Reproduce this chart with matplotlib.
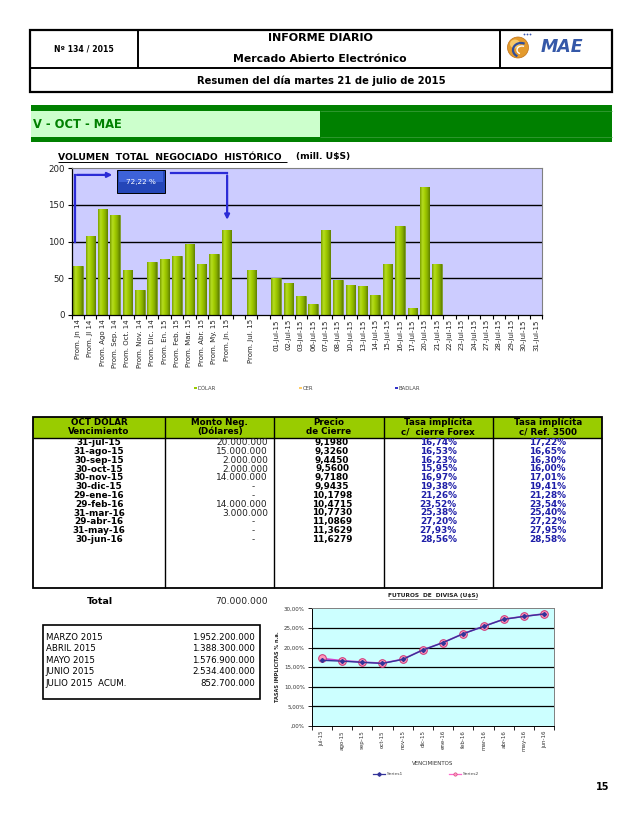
import matplotlib
matplotlib.use('Agg')
import matplotlib.pyplot as plt
import numpy as np
from matplotlib.patches import Rectangle, Circle, Ellipse, Arc
from matplotlib.colors import LinearSegmentedColormap
from matplotlib.ticker import FixedLocator, FuncFormatter

# ---------------- DATA ----------------
bar_categories = ['Prom. Jn 14', 'Prom. Jl 14', 'Prom. Ago 14', 'Prom. Sep. 14', 'Prom. Oct. 14',
                  'Prom. Nov. 14', 'Prom. Dic. 14', 'Prom. En. 15', 'Prom. Feb. 15', 'Prom. Mar. 15',
                  'Prom. Abr. 15', 'Prom. My. 15', 'Prom. Jn. 15', '', 'Prom. Jul. 15', '',
                  '01-jul-15', '02-jul-15', '03-jul-15', '06-jul-15', '07-jul-15', '08-jul-15',
                  '10-jul-15', '13-jul-15', '14-jul-15', '15-jul-15', '16-jul-15', '17-jul-15',
                  '20-jul-15', '21-jul-15', '22-jul-15', '23-jul-15', '24-jul-15', '27-jul-15',
                  '28-jul-15', '29-jul-15', '30-jul-15', '31-jul-15']
nan = np.nan
bar_volumes = [67.2, 108, 144, 137, 61, 34, 72, 76, 80.5, 97, 69.5, 83, 115.7, nan, 61, nan,
               51, 43, 26, 15.5, 115.5, 48, 41, 39.5, 27, 70, 121, 9.5, 175, 70,
               nan, nan, nan, nan, nan, nan, nan, nan]
bar_yticks = [0, 50, 100, 150, 200]
growth_label = '72,22 %'
bar_legend = ['DÓLAR', 'CER', 'BADLAR']

table_header1 = ['OCT DÓLAR', 'Monto Neg.', 'Precio', 'Tasa implícita', 'Tasa implícita']
table_header2 = ['Vencimiento', '(Dólares)', 'de Cierre', 'c/  cierre Forex', 'c/ Ref. 3500']
vencimientos = ['31-jul-15', '31-ago-15', '30-sep-15', '30-oct-15', '30-nov-15', '30-dic-15',
                '29-ene-16', '29-feb-16', '31-mar-16', '29-abr-16', '31-may-16', '30-jun-16']
montos = ['20.000.000', '15.000.000', '2.000.000', '2.000.000', '14.000.000', '-', '-',
          '14.000.000', '3.000.000', '-', '-', '-']
precios = ['9,1980', '9,3260', '9,4450', '9,5600', '9,7180', '9,9435', '10,1798', '10,4715',
           '10,7730', '11,0869', '11,3629', '11,6279']
tasa_forex = [16.74, 16.53, 16.23, 15.95, 16.97, 19.38, 21.26, 23.52, 25.38, 27.20, 27.93, 28.56]
tasa_ref = [17.22, 16.65, 16.30, 16.00, 17.01, 19.41, 21.28, 23.54, 25.40, 27.22, 27.95, 28.58]
total_label = '70.000.000'

month_names = ['MARZO 2015', 'ABRIL 2015', 'MAYO 2015', 'JUNIO 2015', 'JULIO 2015  ACUM.']
month_values = ['1.952.200.000', '1.388.300.000', '1.576.900.000', '2.534.400.000', '852.700.000']

line_categories = ['jul-15', 'ago-15', 'sep-15', 'oct-15', 'nov-15', 'dic-15', 'ene-16',
                   'feb-16', 'mar-16', 'abr-16', 'may-16', 'jun-16']
line_yticks = [0, 5, 10, 15, 20, 25, 30]

# ---------------- FIGURE ----------------
W, H = 638, 826
fig = plt.figure(figsize=(W / 100, H / 100), dpi=100)
plt.rcParams['font.family'] = ['DejaVu Sans']


def ax_px(x0, y0, x1, y1):
    return fig.add_axes([x0 / W, 1 - y1 / H, (x1 - x0) / W, (y1 - y0) / H])


page = fig.add_axes([0, 0, 1, 1])
page.set_xlim(0, W)
page.set_ylim(H, 0)
page.axis('off')


def hline(x0, x1, y, lw=1.2, c='black'):
    page.plot([x0, x1], [y, y], color=c, lw=lw, solid_capstyle='butt')


def vline(x, y0, y1, lw=1.2, c='black'):
    page.plot([x, x], [y0, y1], color=c, lw=lw, solid_capstyle='butt')


# Header box
page.add_patch(Rectangle((30, 30), 582.3, 62.3, fill=False, lw=1.6, ec='black'))
hline(30, 612.3, 67.7, lw=1.4)
vline(138.3, 30, 67.7, lw=1.4)
vline(500.3, 30, 67.7, lw=1.4)
page.text(84, 49, 'Nº 134 / 2015', ha='center', va='center', fontsize=5.6, fontweight='bold')
page.text(320, 38, 'INFORME DIARIO', ha='center', va='center', fontsize=8, fontweight='bold')
page.text(320, 59.5, 'Mercado Abierto Electrónico', ha='center', va='center', fontsize=7.8,
          fontweight='bold')
page.text(321, 81, 'Resumen del día martes 21 de julio de 2015', ha='center', va='center',
          fontsize=7.2, fontweight='bold')

# MAE logo
page.add_patch(Circle((518, 47.5), 10.5, fc='#E39A2C', ec='#C07018', lw=0.5))
page.add_patch(Ellipse((515, 44), 10, 9, fc='#F6C868', ec='none'))
page.add_patch(Arc((521, 50), 16, 14, theta1=120, theta2=300, ec='#2F4E9C', lw=1.6))
page.add_patch(Arc((522, 50), 10, 8, theta1=120, theta2=300, ec='white', lw=1.0))
for dx in (524.5, 527.5, 530.5):
    page.add_patch(Circle((dx, 34.5), 0.9, fc='#3A56B0', ec='none'))
page.text(541, 47, 'MAE', ha='left', va='center', fontsize=12.5, fontweight='bold',
          fontstyle='italic', color='#3558A8')

# Green band
page.add_patch(Rectangle((31, 105.3), 581.3, 36.7, fc='#008000', ec='none'))
page.add_patch(Rectangle((31, 111), 289, 25.7, fc='#CCFFCC', ec='none'))
hline(320, 612.3, 111, lw=0.5, c='#40A040')
hline(320, 612.3, 136.7, lw=0.5, c='#40A040')
page.text(33, 124, 'V - OCT - MAE', ha='left', va='center', fontsize=8.3, fontweight='bold',
          color='#008000')

# Chart title
page.text(58, 157, 'VOLUMEN  TOTAL  NEGOCIADO  HISTÓRICO', ha='left', va='center', fontsize=6.7,
          fontweight='bold')
hline(58, 287, 161.8, lw=0.7)
page.text(296, 157, '(mill. U$S)', ha='left', va='center', fontsize=6.6, fontweight='bold')

# Bar legend
leg_cols = ['#99CC00', '#FFCC66', '#3333CC']
for x, lab, c in zip([196, 301, 397], bar_legend, leg_cols):
    page.add_patch(Rectangle((x - 2, 386.5), 2.6, 2.6, fc=c, ec='none'))
    page.text(x + 1.5, 388, lab, ha='left', va='center', fontsize=3.8, color='#444444')

# ---------------- TABLE ----------------
tl, tr, tt, thb, tb = 33, 602.3, 416.7, 437.7, 588.3
page.add_patch(Rectangle((tl, tt), tr - tl, thb - tt, fc='#99CC00', ec='none'))
page.add_patch(Rectangle((tl, tt), tr - tl, tb - tt, fill=False, lw=1.3, ec='black'))
hline(tl, tr, thb, lw=1.0)
for xd in (165, 274.3, 383.7, 493):
    vline(xd, tt, tb, lw=1.0)
col_centers = [99, 219.7, 329, 438.3, 547.7]
for cx, h1, h2 in zip(col_centers, table_header1, table_header2):
    page.text(cx, 422.5, h1, ha='center', va='center', fontsize=6.3, fontweight='bold')
    page.text(cx, 431.8, h2, ha='center', va='center', fontsize=6.3, fontweight='bold')
for i in range(len(vencimientos)):
    y = 442.6 + 8.8 * i
    page.text(99, y, vencimientos[i], ha='center', va='center', fontsize=6.4, fontweight='bold')
    if montos[i] == '-':
        page.text(253, y, '-', ha='center', va='center', fontsize=6.4, color='#333333')
    else:
        page.text(268, y, montos[i], ha='right', va='center', fontsize=6.5, color='#222222')
    page.text(332, y, precios[i], ha='center', va='center', fontsize=6.4, fontweight='bold')
    page.text(438.3, y, f'{tasa_forex[i]:.2f}%'.replace('.', ','), ha='center', va='center',
              fontsize=6.4, fontweight='bold', color='#1E1EA8')
    page.text(547.7, y, f'{tasa_ref[i]:.2f}%'.replace('.', ','), ha='center', va='center',
              fontsize=6.4, fontweight='bold', color='#1E1EA8')

page.text(100, 602, 'Total', ha='center', va='center', fontsize=6.8, fontweight='bold')
page.text(268, 602, total_label, ha='right', va='center', fontsize=6.6, color='#222222')

# Monthly box
page.add_patch(Rectangle((43, 625), 217, 74.3, fill=False, lw=1.2, ec='black'))
for i, (n, v) in enumerate(zip(month_names, month_values)):
    y = 637 + 11.6 * i
    page.text(45.7, y, n, ha='left', va='center', fontsize=6.2)
    page.text(255, y, v, ha='right', va='center', fontsize=6.2)

# Page number
page.text(603, 787, '15', ha='center', va='center', fontsize=7, fontweight='bold')

# ---------------- BAR CHART ----------------
axb = ax_px(71.7, 168.3, 542.3, 315)
axb.set_facecolor('#CCCCFF')
xs = np.arange(len(bar_categories))
vals = np.array(bar_volumes, dtype=float)
mask = ~np.isnan(vals)
bars = axb.bar(xs[mask], vals[mask], width=0.76, color='#99CC00', edgecolor='#5E7D00',
               linewidth=0.4, zorder=2)
gcmap = LinearSegmentedColormap.from_list('g', ['#7A9E00', '#B6DE22', '#A2CC00', '#88B000',
                                                '#5F7F00'])
grad = np.linspace(0, 1, 64).reshape(1, -1)
for r in bars:
    x0, w, h = r.get_x(), r.get_width(), r.get_height()
    im = axb.imshow(grad, extent=[x0, x0 + w, 0, h], aspect='auto', cmap=gcmap,
                    origin='lower', zorder=2.1, interpolation='bilinear')
    im.set_clip_path(r)
axb.set_xlim(-0.5, len(bar_categories) - 0.5)
axb.set_ylim(0, 200)
axb.set_yticks(bar_yticks)
axb.set_yticklabels([str(v) for v in bar_yticks], fontsize=6.2, color='#222222')
for v in bar_yticks[1:-1]:
    axb.axhline(v, color='black', lw=1.0, zorder=1)
axb.set_xticks(xs)
axb.set_xticklabels(bar_categories, rotation=90, fontsize=5.0, color='#222222')
axb.xaxis.set_minor_locator(FixedLocator(np.arange(-0.5, len(bar_categories), 1.0)))
axb.tick_params(axis='x', which='major', length=0, pad=3)
axb.tick_params(axis='x', which='minor', length=3, width=0.8, direction='out')
axb.tick_params(axis='y', length=3, width=0.8, direction='out', pad=2)
for s in ('top', 'right'):
    axb.spines[s].set_color('#808080')
    axb.spines[s].set_linewidth(0.8)
axb.spines['left'].set_linewidth(0.9)
axb.spines['bottom'].set_linewidth(0.9)

# growth annotation (Jn 14 -> Jn 15)
acol = '#2B2BD6'
axb.plot([-0.22, -0.22], [100, 191], color=acol, lw=1.6, zorder=5, clip_on=False)
axb.annotate('', xy=(3.0, 191), xytext=(-0.3, 191),
             arrowprops=dict(arrowstyle='-|>', color=acol, lw=1.6, mutation_scale=7), zorder=5)
axb.add_patch(Rectangle((3.17, 166.5), 3.86, 31, fc='#2446B8', ec='black', lw=0.7, zorder=6))
axb.add_patch(Rectangle((3.3, 182), 3.6, 14, fc='#3D62D8', ec='none', zorder=6))
axb.text(5.1, 182, growth_label, ha='center', va='center', fontsize=5.2, color='white',
         zorder=7)
axb.plot([7.5, 12.05], [193, 193], color=acol, lw=1.6, zorder=5)
axb.annotate('', xy=(12.05, 126), xytext=(12.05, 194),
             arrowprops=dict(arrowstyle='-|>', color=acol, lw=1.6, mutation_scale=7), zorder=5)

# ---------------- LINE CHART ----------------
page.text(432.7, 596, 'FUTUROS  DE  DIVISA (U$S)', ha='center', va='center', fontsize=4.2,
          fontweight='bold', color='#222222')
hline(389, 477, 598.6, lw=0.4, c='#222222')

axl = ax_px(311.7, 608.3, 554.3, 726)
axl.set_facecolor('#CCFFFF')
lx = np.arange(len(line_categories))
axl.plot(lx, tasa_ref, color='#CC44CC', lw=1.2, marker='o', markersize=5.5,
         markerfacecolor='#FF99BB', markeredgecolor='#CC3377', markeredgewidth=0.7, zorder=3)
axl.plot(lx, tasa_forex, color='#333399', lw=1.0, marker='D', markersize=2, zorder=4)
axl.set_xlim(-0.5, len(line_categories) - 0.5)
axl.set_ylim(0, 30)
axl.set_yticks(line_yticks)
axl.yaxis.set_major_formatter(FuncFormatter(
    lambda v, p: ',00%' if v == 0 else f'{v:.2f}%'.replace('.', ',')))
for v in line_yticks[1:-1]:
    axl.axhline(v, color='black', lw=0.9, zorder=1)
axl.set_xticks(lx)
axl.set_xticklabels(line_categories, rotation=90, fontsize=4.0, color='#333333')
axl.xaxis.set_minor_locator(FixedLocator(np.arange(-0.5, len(line_categories), 1.0)))
axl.tick_params(axis='x', which='major', length=0, pad=3)
axl.tick_params(axis='x', which='minor', length=3, width=0.6, direction='out')
axl.tick_params(axis='y', length=3, width=0.6, direction='out', labelsize=4.0,
                labelcolor='#333333', pad=2)
for s in ('top', 'right'):
    axl.spines[s].set_color('#808080')
    axl.spines[s].set_linewidth(0.7)
axl.spines['left'].set_linewidth(0.7)
axl.spines['bottom'].set_linewidth(0.7)
axl.set_xlabel('VENCIMIENTOS', fontsize=4.0, color='#333333', labelpad=7)
axl.set_ylabel('TASAS IMPLICITAS % n.a.', fontsize=3.6, fontweight='bold', color='#222222',
               labelpad=3)

# line legend
page.plot([372.7, 385], [774, 774], color='#333399', lw=0.9)
page.plot([378.8], [774], marker='D', color='#333399', markersize=1.8)
page.text(387, 774, 'Series1', ha='left', va='center', fontsize=3.2, color='#444444')
page.plot([449, 460.7], [774, 774], color='#FF66CC', lw=0.9)
page.plot([454.8], [774], marker='o', markersize=2.4, markerfacecolor='#FF99BB',
          markeredgecolor='#CC3377', markeredgewidth=0.4)
page.text(463, 774, 'Series2', ha='left', va='center', fontsize=3.2, color='#444444')

fig.savefig('out.png', dpi=100, facecolor='white')
